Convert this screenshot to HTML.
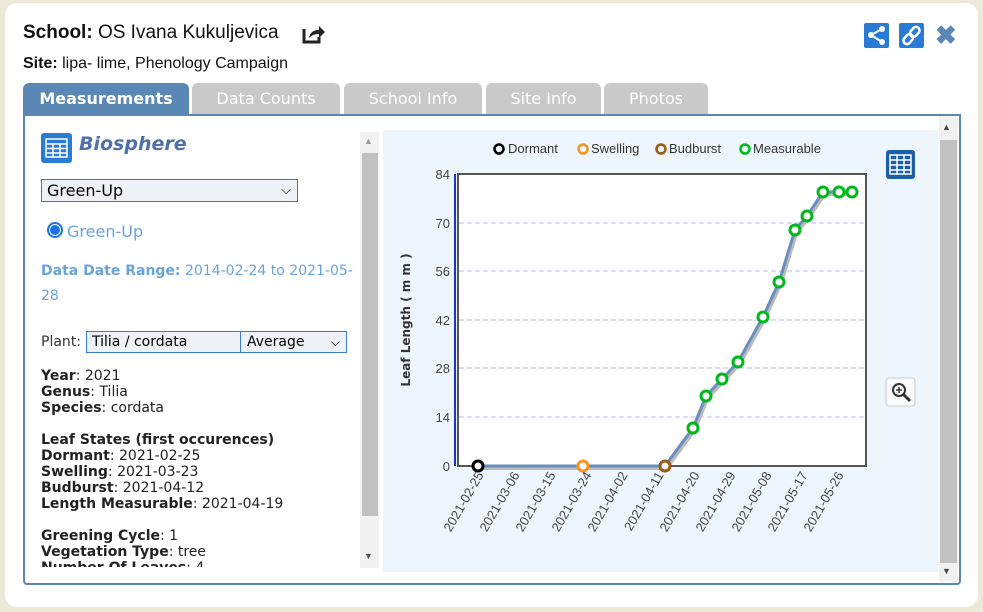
<!DOCTYPE html>
<html><head><meta charset="utf-8"><style>
*{margin:0;padding:0;box-sizing:border-box}
body{width:983px;height:612px;background:#ece9d8;position:relative;overflow:hidden;font-family:"Liberation Sans",sans-serif}
.a{position:absolute}
.dlg{left:5px;top:3px;width:973px;height:604px;background:#fff;border-radius:12px}
.tab{top:83px;height:32px;border-radius:6px 6px 0 0;background:#c9c9c9;color:#fff;font-size:16px;text-align:center;line-height:32px;font-family:"DejaVu Sans",sans-serif}
.lt{font-family:"DejaVu Sans",sans-serif;font-size:14px;color:#222;line-height:16px}
.lt b{font-weight:bold}
</style></head><body>
<div class="a dlg"></div>
<div class="a" style="left:23px;top:22px;font-size:19px;color:#111"><b>School:</b> OS Ivana Kukuljevica</div>
<svg class="a" style="left:301px;top:23px" width="24" height="22" viewBox="0 0 24 22"><path d="M3 6v13h15v-5" fill="none" stroke="#222" stroke-width="3"/><path d="M8 15c1-6 5-8 10-8V3l6 6-6 6V11c-4 0-7 1-10 4z" fill="#222"/></svg>
<div class="a" style="left:23px;top:55px;font-size:16px;color:#111"><b>Site:</b> lipa- lime, Phenology Campaign</div>
<div class="a" style="left:864px;top:23px;width:25px;height:25px;background:#2a7bd6;border-radius:2px"></div>
<svg class="a" style="left:864px;top:23px" width="25" height="25"><line x1="7" y1="12" x2="18" y2="6" stroke="#fff" stroke-width="2"/><line x1="7" y1="12" x2="18" y2="19" stroke="#fff" stroke-width="2"/><circle cx="7" cy="12" r="3" fill="#fff"/><circle cx="18" cy="6" r="3" fill="#fff"/><circle cx="18" cy="19" r="3" fill="#fff"/></svg>
<div class="a" style="left:899px;top:23px;width:25px;height:25px;background:#2a7bd6;border-radius:2px"></div>
<svg class="a" style="left:899px;top:23px" width="25" height="25"><g stroke="#fff" stroke-width="2.5" fill="none"><rect x="12" y="3" width="7" height="11" rx="3.5" transform="rotate(40 15 9)"/><rect x="6" y="11" width="7" height="11" rx="3.5" transform="rotate(40 10 16)"/></g></svg>
<div class="a" style="left:935px;top:20px;font-size:26px;color:#5a86b8;font-weight:bold">✖</div>
<div class="a tab" style="left:23px;width:166px;background:#5b87b5;font-weight:bold">Measurements</div>
<div class="a tab" style="left:192px;width:148px">Data Counts</div>
<div class="a tab" style="left:344px;width:138px">School Info</div>
<div class="a tab" style="left:486px;width:115px">Site Info</div>
<div class="a tab" style="left:604px;width:104px">Photos</div>
<div class="a" style="left:23px;top:114px;width:938px;height:471px;border:2px solid #5b87b5;border-radius:0 0 4px 4px;background:#fff"></div>
<svg class="a" style="left:41px;top:133px" width="31" height="30"><rect width="31" height="30" rx="3" fill="#2a7bd6"/><g stroke="#fff" stroke-width="1.5" fill="none"><rect x="5" y="6" width="21" height="18"/><line x1="5" y1="11" x2="26" y2="11"/><line x1="5" y1="15.5" x2="26" y2="15.5"/><line x1="5" y1="20" x2="26" y2="20"/><line x1="12" y1="11" x2="12" y2="24"/><line x1="19" y1="11" x2="19" y2="24"/></g></svg>
<div class="a" style="left:79px;top:133px;font-family:'DejaVu Sans',sans-serif;font-size:19px;font-style:italic;font-weight:bold;color:#4f70a8">Biosphere</div>
<div class="a" style="left:41px;top:179px;width:257px;height:23px;border:1px solid #4a77b0;background:#eef2f6;font-family:'DejaVu Sans',sans-serif;font-size:16px;padding-left:5px;line-height:21px">Green-Up<span style="position:absolute;right:6px;font-size:13px">⌵</span></div>
<div class="a" style="left:47px;top:222px;width:16px;height:16px;border-radius:50%;border:2px solid #1a73e8;background:#fff"><div style="margin:1px;width:10px;height:10px;border-radius:50%;background:#1a73e8"></div></div>
<div class="a" style="left:67px;top:222px;font-family:'DejaVu Sans',sans-serif;font-size:16px;color:#6aa4d8">Green-Up</div>
<div class="a" style="left:41px;top:259px;width:320px;font-family:'DejaVu Sans',sans-serif;font-size:14px;color:#6aa4d8;line-height:25px"><b>Data Date Range:</b> 2014-02-24 to 2021-05-<br>28</div>
<div class="a lt" style="left:41px;top:334px;color:#333">Plant:</div>
<div class="a" style="left:86px;top:331px;width:155px;height:22px;border:1px solid #3a7bd5;background:#eef2f6;font-family:'DejaVu Sans',sans-serif;font-size:14px;padding-left:5px;line-height:20px">Tilia / cordata</div>
<div class="a" style="left:240px;top:331px;width:107px;height:22px;border:1px solid #3a7bd5;background:#eef2f6;font-family:'DejaVu Sans',sans-serif;font-size:14px;padding-left:6px;line-height:20px">Average<span style="position:absolute;right:6px;font-size:12px">⌵</span></div>
<div class="a lt" style="left:41px;top:368px;width:320px;height:199px;overflow:hidden"><b>Year</b>: 2021<br><b>Genus</b>: Tilia<br><b>Species</b>: cordata<br><br><b>Leaf States (first occurences)</b><br><b>Dormant</b>: 2021-02-25<br><b>Swelling</b>: 2021-03-23<br><b>Budburst</b>: 2021-04-12<br><b>Length Measurable</b>: 2021-04-19<br><br><b>Greening Cycle</b>: 1<br><b>Vegetation Type</b>: tree<br><b>Number Of Leaves</b>: 4</div>
<div class="a" style="left:360px;top:132px;width:19px;height:436px;background:#f1f1f1"></div>
<div class="a" style="left:362px;top:153px;width:16px;height:363px;background:#c1c1c1"></div>
<div class="a" style="left:364px;top:136px;font-size:9px;color:#999">▲</div>
<div class="a" style="left:364px;top:551px;font-size:9px;color:#555">▼</div>
<div class="a" style="left:939px;top:116px;width:19px;height:466px;background:#f1f1f1"></div>
<div class="a" style="left:940px;top:140px;width:17px;height:423px;background:#c1c1c1"></div>
<div class="a" style="left:942px;top:122px;font-size:9px;color:#444">▲</div>
<div class="a" style="left:942px;top:566px;font-size:9px;color:#444">▼</div>
<svg class="a" style="left:383px;top:130px" width="555" height="442" viewBox="383 130 555 442" font-family="Liberation Sans, sans-serif">
<rect x="383" y="130" width="555" height="442" fill="#eef6fd"/>
<g font-size="13" fill="#333">
<circle cx="499" cy="149" r="4.5" fill="none" stroke="#000" stroke-width="2.5"/><text x="508" y="153">Dormant</text>
<circle cx="583" cy="149" r="4.5" fill="none" stroke="#f7941d" stroke-width="2.5"/><text x="591" y="153">Swelling</text>
<circle cx="661" cy="149" r="4.5" fill="none" stroke="#9c5a14" stroke-width="2.5"/><text x="669" y="153">Budburst</text>
<circle cx="745" cy="149" r="4.5" fill="none" stroke="#00b81c" stroke-width="2.5"/><text x="753" y="153">Measurable</text>
</g>
<rect x="886" y="150" width="29" height="29" rx="3" fill="#1c5fa6"/>
<g stroke="#fff" stroke-width="1.5" fill="none"><rect x="890" y="155" width="21" height="19"/><line x1="890" y1="160" x2="911" y2="160"/><line x1="890" y1="165" x2="911" y2="165"/><line x1="890" y1="170" x2="911" y2="170"/><line x1="897" y1="155" x2="897" y2="174"/><line x1="904" y1="155" x2="904" y2="174"/></g>
<rect x="886" y="378" width="29" height="28" rx="3" fill="#fafafa" stroke="#ccc"/>
<circle cx="899" cy="390" r="6" fill="#fff" stroke="#333" stroke-width="2"/><line x1="903" y1="394" x2="910" y2="401" stroke="#333" stroke-width="3"/><path d="M896 390h6M899 387v6" stroke="#333" stroke-width="1.5"/>
<rect x="458" y="174" width="408" height="292" fill="#fff" stroke="#555" stroke-width="2"/>
<g stroke="#b5bbea" stroke-dasharray="5,3"><line x1="459" x2="865" y1="223" y2="223"/><line x1="459" x2="865" y1="271" y2="271"/><line x1="459" x2="865" y1="320" y2="320"/><line x1="459" x2="865" y1="368" y2="368"/><line x1="459" x2="865" y1="417" y2="417"/></g>
<line x1="455" y1="174" x2="455" y2="466" stroke="#2233cc" stroke-width="2"/>
<g font-size="13" fill="#444" text-anchor="end"><text x="450" y="179">84</text><text x="450" y="228">70</text><text x="450" y="276">56</text><text x="450" y="325">42</text><text x="450" y="373">28</text><text x="450" y="422">14</text><text x="450" y="471">0</text></g>
<text transform="translate(410 320) rotate(-90)" text-anchor="middle" font-size="12" font-weight="bold" fill="#333" font-family="DejaVu Sans, sans-serif">Leaf Length ( m m )</text>
<polyline points="478,466 583,466 665,466 693,428 706,396 722,379 738,362 763,317 779,282 795,230 807,216 823,192 839,192 852,192" fill="none" stroke="#bbb" stroke-width="4" transform="translate(1.5 2)"/>
<polyline points="478,466 583,466 665,466 693,428 706,396 722,379 738,362 763,317 779,282 795,230 807,216 823,192 839,192 852,192" fill="none" stroke="#6a8fbf" stroke-width="3"/>
<g fill="#fff" stroke-width="3">
<circle cx="478" cy="466" r="5" stroke="#000"/><circle cx="583" cy="466" r="5" stroke="#f7941d"/><circle cx="665" cy="466" r="5" stroke="#9c5a14"/>
<g stroke="#00b81c"><circle cx="693" cy="428" r="5"/><circle cx="706" cy="396" r="5"/><circle cx="722" cy="379" r="5"/><circle cx="738" cy="362" r="5"/><circle cx="763" cy="317" r="5"/><circle cx="779" cy="282" r="5"/><circle cx="795" cy="230" r="5"/><circle cx="807" cy="216" r="5"/><circle cx="823" cy="192" r="5"/><circle cx="839" cy="192" r="5"/><circle cx="852" cy="192" r="5"/></g>
</g>
<g font-size="13" fill="#444" text-anchor="end">
<text transform="translate(484 475) rotate(-60)">2021-02-25</text>
<text transform="translate(520 475) rotate(-60)">2021-03-06</text>
<text transform="translate(556 475) rotate(-60)">2021-03-15</text>
<text transform="translate(592 475) rotate(-60)">2021-03-24</text>
<text transform="translate(628 475) rotate(-60)">2021-04-02</text>
<text transform="translate(664 475) rotate(-60)">2021-04-11</text>
<text transform="translate(700 475) rotate(-60)">2021-04-20</text>
<text transform="translate(736 475) rotate(-60)">2021-04-29</text>
<text transform="translate(772 475) rotate(-60)">2021-05-08</text>
<text transform="translate(808 475) rotate(-60)">2021-05-17</text>
<text transform="translate(844 475) rotate(-60)">2021-05-26</text>
</g>
</svg>
</body></html>
